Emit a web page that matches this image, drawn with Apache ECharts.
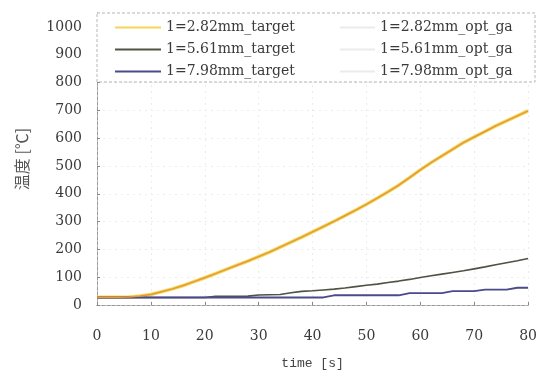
<!DOCTYPE html>
<html>
<head>
<meta charset="utf-8">
<script src="https://cdn.jsdelivr.net/npm/echarts@6/dist/echarts.min.js"></script>
<style>
  html, body { margin: 0; padding: 0; background: #fff; }
  #chart { width: 540px; height: 375px; }
</style>
</head>
<body>
<div id="chart"></div>
<script>
// time [s], sampled every 2 s
const times = [0, 2, 4, 6, 8, 10, 12, 14, 16, 18, 20, 22, 24, 26, 28, 30, 32, 34, 36, 38, 40,
  42, 44, 46, 48, 50, 52, 54, 56, 58, 60, 62, 64, 66, 68, 70, 72, 74, 76, 78, 80]

// 温度 [℃]
const temp282 = [28, 28, 28, 29, 32, 38, 48, 58, 70, 84, 98, 113, 128, 143, 158, 174, 190, 208, 226, 244, 263,
  282, 301, 321, 341, 362, 384, 407, 431, 458, 486, 512, 536, 560, 584, 604, 624, 644, 662, 680, 698]
const temp561 = [27, 27, 27, 27, 27, 27, 27, 27, 27, 27, 27, 31, 31, 31, 32, 36, 37, 38, 44, 49, 51,
  54, 57, 61, 66, 71, 75, 81, 86, 92, 99, 105, 111, 117, 123, 130, 137, 145, 152, 159, 167]
const temp798 = [27, 27, 27, 27, 27, 27, 27, 27, 27, 27, 27, 27, 27, 27, 27, 27, 27, 27, 27, 27, 27,
  27, 35, 35, 35, 35, 35, 35, 35, 43, 43, 43, 43, 50, 50, 50, 55, 55, 55, 62, 62]

// opt_ga results lie on top of the targets
const opt282 = temp282
const opt561 = temp561
const opt798 = temp798

const names = ['1=2.82mm_target', '1=5.61mm_target', '1=7.98mm_target',
  '1=2.82mm_opt_ga', '1=5.61mm_opt_ga', '1=7.98mm_opt_ga']

const xTicks = { min: 0, max: 80, interval: 10 }
const yTicks = { min: 0, max: 1050, interval: 100 }

const pair = (ys) => times.map((t, i) => [t, ys[i]])

const chart = echarts.init(document.getElementById('chart'))

const serif = '"DejaVu Serif", "Liberation Serif", serif'
const frame = { show: true, lineStyle: { color: '#9a9a9a', type: [3, 2], width: 1 } }
const faint = '#ebebeb'

const lineSeries = (name, ys, color, width, z) => ({
  name,
  type: 'line',
  data: pair(ys),
  symbol: 'none',
  z,
  lineStyle: { color, width },
  itemStyle: { color }
})

const legendBase = {
  orient: 'vertical',
  top: 20,
  padding: 0,
  itemGap: 7,
  itemHeight: 2,
  icon: 'rect',
  textStyle: { fontFamily: serif, fontSize: 14, lineHeight: 15, color: '#3a3a3a' }
}

chart.setOption({
  backgroundColor: '#fff',
  animation: false,
  grid: { left: 97, right: 5, top: 13, bottom: 68 },
  graphic: [{
    type: 'rect',
    z: 1,
    shape: { x: 97, y: 13, width: 438, height: 69 },
    style: { fill: '#fff', stroke: '#b5b5b5', lineWidth: 1, lineDash: [3, 2] }
  }],
  legend: [{
    ...legendBase,
    left: 115,
    itemWidth: 46,
    data: names.slice(0, 3)
  }, {
    ...legendBase,
    left: 340,
    itemWidth: 35,
    data: names.slice(3).map((n) => ({ name: n, itemStyle: { color: faint } }))
  }],
  xAxis: [{
    type: 'value',
    ...xTicks,
    name: 'time [s]',
    nameLocation: 'middle',
    nameGap: 52,
    nameTextStyle: { fontFamily: '"Liberation Mono", monospace', fontSize: 13, color: '#444' },
    axisLine: frame,
    axisTick: { show: true, inside: true, length: 3, lineStyle: { color: '#888' } },
    axisLabel: { margin: 24, fontFamily: serif, fontSize: 14, color: '#3a3a3a' },
    splitLine: { show: true, lineStyle: { color: '#ececec', type: [2, 4] } }
  }, {
    type: 'value',
    ...xTicks,
    position: 'top',
    axisLine: frame,
    axisTick: { show: false },
    axisLabel: { show: false },
    splitLine: { show: false }
  }],
  yAxis: [{
    type: 'value',
    ...yTicks,
    name: '温度 [℃]',
    nameLocation: 'middle',
    nameRotate: 90,
    nameGap: 67,
    nameTextStyle: { fontFamily: '"Noto Sans CJK JP", sans-serif', fontSize: 16, color: '#555' },
    axisLine: frame,
    axisTick: { show: true, inside: true, length: 3, lineStyle: { color: '#888' } },
    axisLabel: {
      margin: 15,
      showMaxLabel: false,
      formatter: (v) => String(v),
      fontFamily: serif,
      fontSize: 14,
      color: '#3a3a3a'
    },
    splitLine: { show: true, lineStyle: { color: '#ececec', type: [2, 4] } }
  }, {
    type: 'value',
    ...yTicks,
    position: 'right',
    axisLine: frame,
    axisTick: { show: false },
    axisLabel: { show: false },
    splitLine: { show: false }
  }],
  series: [
    lineSeries(names[4], opt561, faint, 1, 2),
    lineSeries(names[5], opt798, faint, 1, 2),
    lineSeries(names[0], temp282, '#f4d65a', 3.5, 3),
    lineSeries(names[1], temp561, '#4d5443', 1.6, 3),
    lineSeries(names[2], temp798, '#4a4a8c', 1.8, 3),
    lineSeries(names[3], opt282, '#e39a35', 1.5, 4)
  ]
})
</script>
</body>
</html>
